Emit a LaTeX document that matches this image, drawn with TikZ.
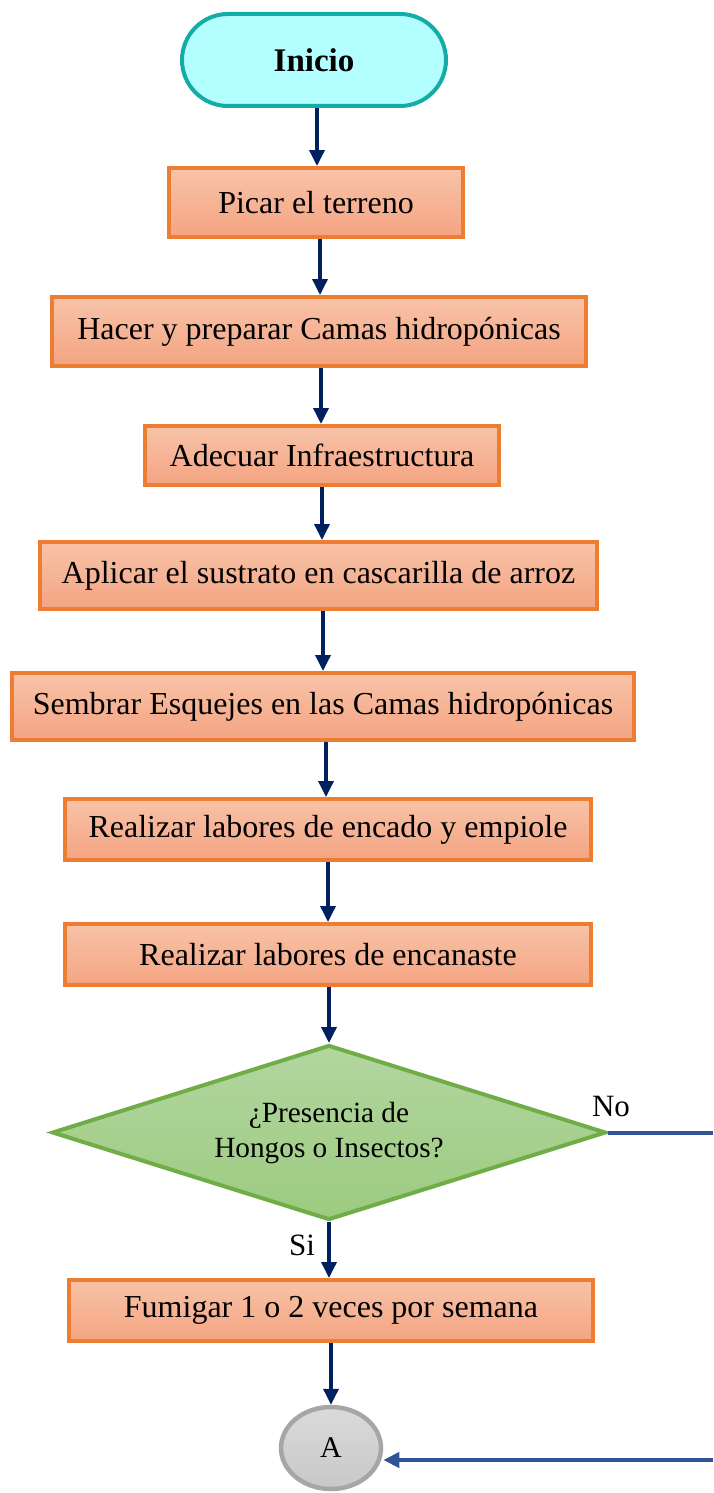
\documentclass[tikz,border=0pt]{standalone}
\usepackage{fontspec}
\setmainfont{Liberation Serif}
\usetikzlibrary{shapes.geometric,shapes.misc,arrows.meta}
\definecolor{boxborder}{HTML}{ED7D31}
\definecolor{boxtop}{HTML}{F8C3A8}
\definecolor{boxbot}{HTML}{F4A482}
\definecolor{termfill}{HTML}{B3FFFF}
\definecolor{termborder}{HTML}{14ACA6}
\definecolor{dectop}{HTML}{B3D6A0}
\definecolor{decbot}{HTML}{9CCB80}
\definecolor{decborder}{HTML}{70AD47}
\definecolor{contop}{HTML}{DADADA}
\definecolor{conbot}{HTML}{C8C8C8}
\definecolor{conborder}{HTML}{A6A6A6}
\definecolor{arrnavy}{HTML}{002060}
\definecolor{linkblue}{HTML}{2F5597}
\tikzset{
  stepbox/.style={rectangle, draw=boxborder, line width=4pt, top color=boxtop, bottom color=boxbot,
    inner sep=0pt, font=\fontsize{32}{37}\selectfont, text=black},
  termbox/.style={rounded rectangle, draw=termborder, line width=4pt, fill=termfill,
    inner sep=0pt, minimum width=264pt, minimum height=92pt, font=\fontsize{33}{38}\selectfont\bfseries},
  decbox/.style={diamond, aspect=3, draw=decborder, line width=4pt, top color=dectop, bottom color=decbot,
    inner sep=0pt, minimum width=554pt, minimum height=175pt, align=center, font=\fontsize{29.3}{35}\selectfont},
  conbox/.style={ellipse, draw=conborder, line width=4.5pt, top color=contop, bottom color=conbot,
    inner sep=0pt, minimum width=100pt, minimum height=82pt, font=\fontsize{30}{34}\selectfont},
  arr/.style={draw=arrnavy, line width=3.5pt, -{Triangle[length=16pt,width=15pt]}},
  linkarr/.style={draw=linkblue, line width=4pt, -{Triangle[length=16pt,width=15pt]}},
  linkline/.style={draw=linkblue, line width=4pt},
  lbl/.style={font=\fontsize{31}{35}\selectfont, inner sep=0pt}
}
\begin{document}
\begin{tikzpicture}[x=1pt,y=-1pt]
\useasboundingbox (0,0) rectangle (713,1493);
\node[termbox] (inicio) at (314,60) {Inicio};
\node[stepbox, minimum width=294pt, minimum height=69pt] (picar) at (316,202.5) {Picar el terreno};
\node[stepbox, minimum width=534pt, minimum height=69pt] (hacer) at (319,331.5) {Hacer y preparar Camas hidropónicas};
\node[stepbox, minimum width=354pt, minimum height=59pt] (adecuar) at (322,455.5) {Adecuar Infraestructura};
\node[stepbox, minimum width=557pt, minimum height=67pt] (aplicar) at (318.5,575.5) {Aplicar el sustrato en cascarilla de arroz};
\node[stepbox, minimum width=622pt, minimum height=67pt] (sembrar) at (323,706.5) {Sembrar Esquejes en las Camas hidropónicas};
\node[stepbox, minimum width=526pt, minimum height=61pt] (encado) at (328,829.5) {Realizar labores de encado y empiole};
\node[stepbox, minimum width=526pt, minimum height=61pt] (encanaste) at (328,954.5) {Realizar labores de encanaste};
\node[decbox] (dec) at (329,1132.5) {¿Presencia de\\Hongos o Insectos?};
\node[stepbox, minimum width=524pt, minimum height=61pt] (fumigar) at (331,1310.5) {Fumigar 1 o 2 veces por semana};
\node[conbox] (A) at (331,1448) {A};
\coordinate (noend) at (713,1132.5);
\coordinate (aend) at (713,1460);
\draw[arr] (inicio.south -| 317,0) -- (picar.north -| 317,0);
\draw[arr] (picar.south -| 320,0) -- (hacer.north -| 320,0);
\draw[arr] (hacer.south -| 321,0) -- (adecuar.north -| 321,0);
\draw[arr] (adecuar.south -| 322,0) -- (aplicar.north -| 322,0);
\draw[arr] (aplicar.south -| 323,0) -- (sembrar.north -| 323,0);
\draw[arr] (sembrar.south -| 326,0) -- (encado.north -| 326,0);
\draw[arr] (encado.south -| 328,0) -- (encanaste.north -| 328,0);
\draw[arr] (encanaste.south -| dec.north) -- (dec.north);
\draw[arr] (dec.south) -- (fumigar.north -| dec.south);
\draw[arr] (fumigar.south) -- (A.north);
\draw[linkline] (dec.east) -- (noend);
\draw[linkarr] (aend) -- (aend -| A.east);
\node[lbl] (no) at (611,1106) {No};
\node[lbl] (si) at (302,1245) {Si};
\end{tikzpicture}
\end{document}
